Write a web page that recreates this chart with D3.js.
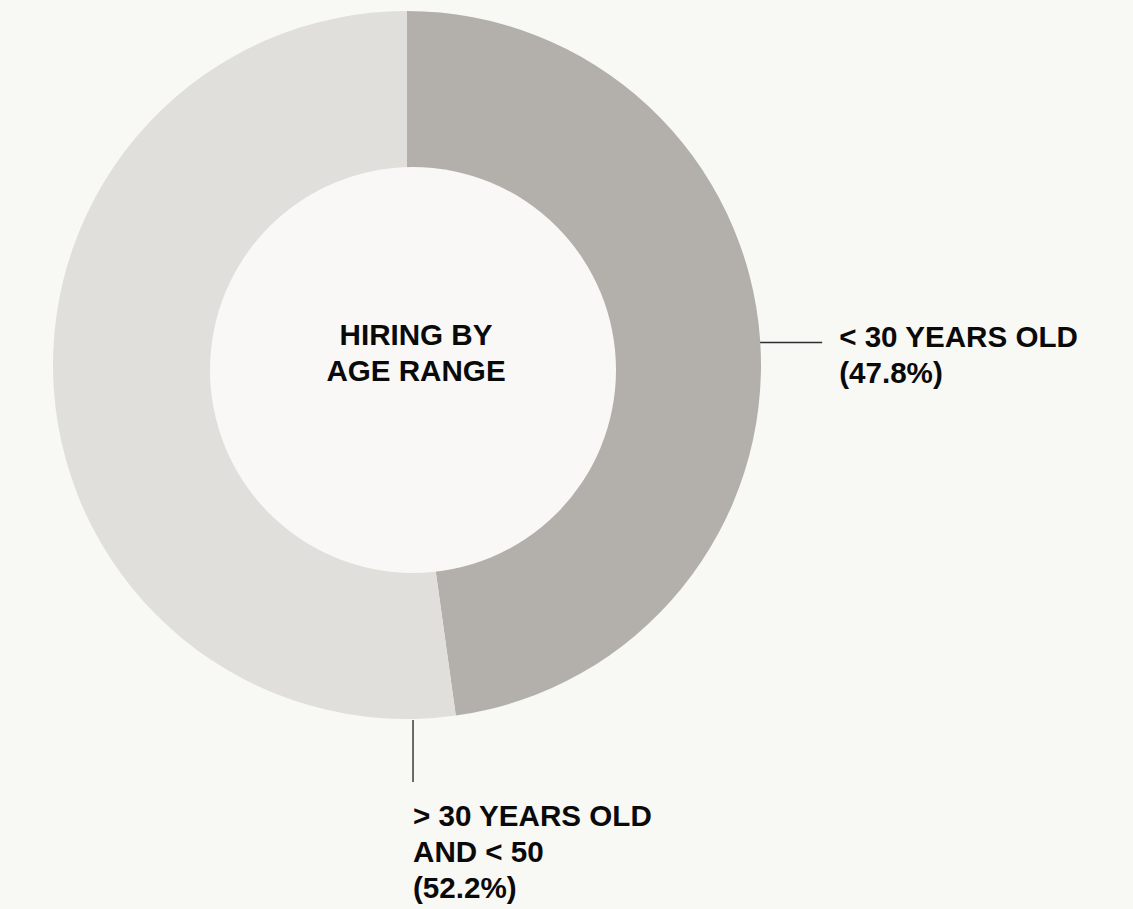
<!DOCTYPE html>
<html>
<head>
<meta charset="utf-8">
<script src="https://cdn.jsdelivr.net/npm/d3@7"></script>
<style>
  html, body { margin: 0; padding: 0; background: #f8f8f4; }
  svg { display: block; }
  text { font-family: "Liberation Sans", Arial, Helvetica, sans-serif; font-weight: bold; fill: #0a0a0a; }
</style>
</head>
<body>
<svg id="chart" width="1133" height="909"></svg>
<script>
// Hiring split by age range (percent of hires)
const categories = ["< 30 YEARS OLD", "> 30 YEARS OLD AND < 50"];
const shares = [47.8, 52.2];
const labelLines = [
  ["< 30 YEARS OLD", "(47.8%)"],
  ["> 30 YEARS OLD", "AND < 50", "(52.2%)"]
];
const centerTitle = ["HIRING BY", "AGE RANGE"];

const colors = ["#b3b0ab", "#e0dfdb"];

const W = 1133, H = 909;
const cx = 407, cy = 365;
const outerR = 354;
const holeR = 203;
const fontSize = "29.6px";
const lineStep = 36;

const svg = d3.select("#chart");
svg.append("rect").attr("width", W).attr("height", H).attr("fill", "#f8f8f4");

const data = categories.map((c, i) => ({ name: c, value: shares[i], lines: labelLines[i], color: colors[i] }));

const pie = d3.pie().value(d => d.value).sort(null);
const arcs = pie(data);
const arc = d3.arc().innerRadius(0).outerRadius(outerR);

const g = svg.append("g").attr("transform", `translate(${cx},${cy})`);

g.selectAll("path.slice")
  .data(arcs)
  .join("path")
  .attr("class", "slice")
  .attr("d", arc)
  .attr("fill", d => d.data.color);

// centre hole
g.append("circle")
  .attr("cx", 6).attr("cy", 5)
  .attr("r", holeR)
  .attr("fill", "#f9f8f6");

// centre title
const title = g.append("text").attr("text-anchor", "middle").style("font-size", fontSize);
centerTitle.forEach((t, i) => {
  title.append("tspan").attr("x", 9).attr("y", -20 + i * lineStep).text(t);
});

// leader lines and labels
const lineColor = "#2e2e2e";
arcs.forEach((a, i) => {
  if (i === 0) {
    // first slice: horizontal leader out from its mid angle
    const mid = (a.startAngle + a.endAngle) / 2;
    const x0 = Math.sin(mid) * outerR;
    const y0 = -Math.cos(mid) * outerR + 2;
    g.append("line")
      .attr("x1", x0).attr("y1", y0)
      .attr("x2", x0 + 62).attr("y2", y0)
      .attr("stroke", lineColor).attr("stroke-width", 1.4);
    const t = g.append("text").style("font-size", fontSize);
    a.data.lines.forEach((s, k) => {
      t.append("tspan").attr("x", x0 + 79).attr("y", y0 + 4 + k * lineStep).text(s);
    });
  } else {
    // second slice: vertical leader dropping from the bottom rim
    const ang = Math.PI + 0.017;
    const x0 = Math.sin(ang) * outerR;
    const y0 = -Math.cos(ang) * outerR;
    g.append("line")
      .attr("x1", -x0).attr("y1", y0 + 1)
      .attr("x2", -x0).attr("y2", y0 + 63)
      .attr("stroke", lineColor).attr("stroke-width", 1.4);
    const t = g.append("text").style("font-size", fontSize);
    a.data.lines.forEach((s, k) => {
      t.append("tspan").attr("x", -x0).attr("y", y0 + 107 + k * lineStep).text(s);
    });
  }
});
</script>
</body>
</html>
